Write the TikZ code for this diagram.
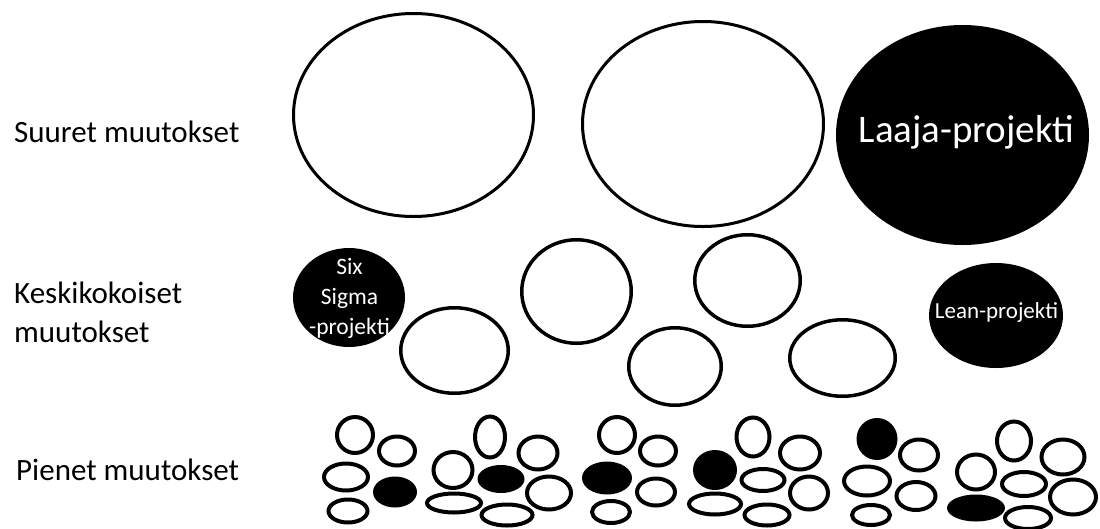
\documentclass[tikz,border=0pt]{standalone}
\usepackage{fontspec}
\setmainfont{Carlito}
\usetikzlibrary{shapes.geometric}

\begin{document}
\begin{tikzpicture}[x=1pt,y=-1pt,ring/.style={ellipse,draw=black,inner sep=0pt},iso/.style={ring,line width=3pt},keski/.style={ring,line width=3.5pt},pieni/.style={ring,line width=4pt},tumma/.style={ellipse,fill=black,inner sep=0pt},otsikko/.style={font=\fontsize{31}{39}\selectfont,anchor=base west,align=left,inner sep=0pt},sisus/.style={text=white,inner sep=0pt}]
\useasboundingbox (0,0) rectangle (1100,528);
\node[otsikko] (suuret) at (14,142) {Suuret muutokset};
\node[otsikko] (keskikok) at (14,342) {Keskikokoiset\\muutokset};
\node[otsikko] (pienet) at (16,480) {Pienet muutokset};
\node[iso,minimum width=240pt,minimum height=203pt] (iso1) at (413.5,115) {};
\node[iso,minimum width=241pt,minimum height=205pt] (iso2) at (703,124) {};
\node[tumma,minimum width=253pt,minimum height=220pt] (laaja) at (962.5,135) {};
\node[sisus,font=\fontsize{39}{47}\selectfont,anchor=base] (laajateksti) at (966.5,142) {Laaja-projekti};
\node[tumma,minimum width=112pt,minimum height=99pt] (sixsigma) at (349,297.5) {};
\node[sisus,font=\fontsize{23.5}{30}\selectfont,align=center] (sixteksti) at (349.5,298) {Six\\Sigma\\-projekti};
\node[tumma,minimum width=134pt,minimum height=105pt] (lean) at (996,315.5) {};
\node[sisus,font=\fontsize{23}{28}\selectfont,anchor=base] (leanteksti) at (996.5,318) {Lean-projekti};
\foreach \x/\y/\w/\h [count=\i] in {454.5/350.5/107.5/85.5,576.5/291.5/109.5/103.5,747.5/280.5/105.5/91.5,675/366.5/92.5/77.5,842.5/358/105.5/76.5}{\node[keski,minimum width=\w pt,minimum height=\h pt] (keski\i) at (\x,\y) {};}
\foreach \x/\y/\w/\h [count=\i] in {355/435/36/36,397/451/36/29,346/477/44/27,348/511/39/23,490/437/30/41,538/453/39/33,453/470/39/36,549/493/44/33,454/503/54/19,507/515/51/21,617/435/36/36,658/451/36/29,656/492/38/27,611/512/38/22,753/437/33/39,800/453/40/33,763/480/43/22,809/493/38/33,715/504/52/21,767/515/45/21,919/455/38/31,867/481/46/29,916/496/39/28,871/515/38/20,1014/441/34/39,1063/457/43/35,976/472/38/35,1024/484/44/24,1073/497/46/35,1028/518/46/22}{\node[pieni,minimum width=\w pt,minimum height=\h pt] (pieni\i) at (\x,\y) {};}
\foreach \x/\y/\w/\h [count=\i] in {395/492/44/31,501/479/47/28,607/478/50/33,715/470/44/40,877/439/41/42,976/508/58/27}{\node[tumma,minimum width=\w pt,minimum height=\h pt] (tumma\i) at (\x,\y) {};}
\end{tikzpicture}
\end{document}
